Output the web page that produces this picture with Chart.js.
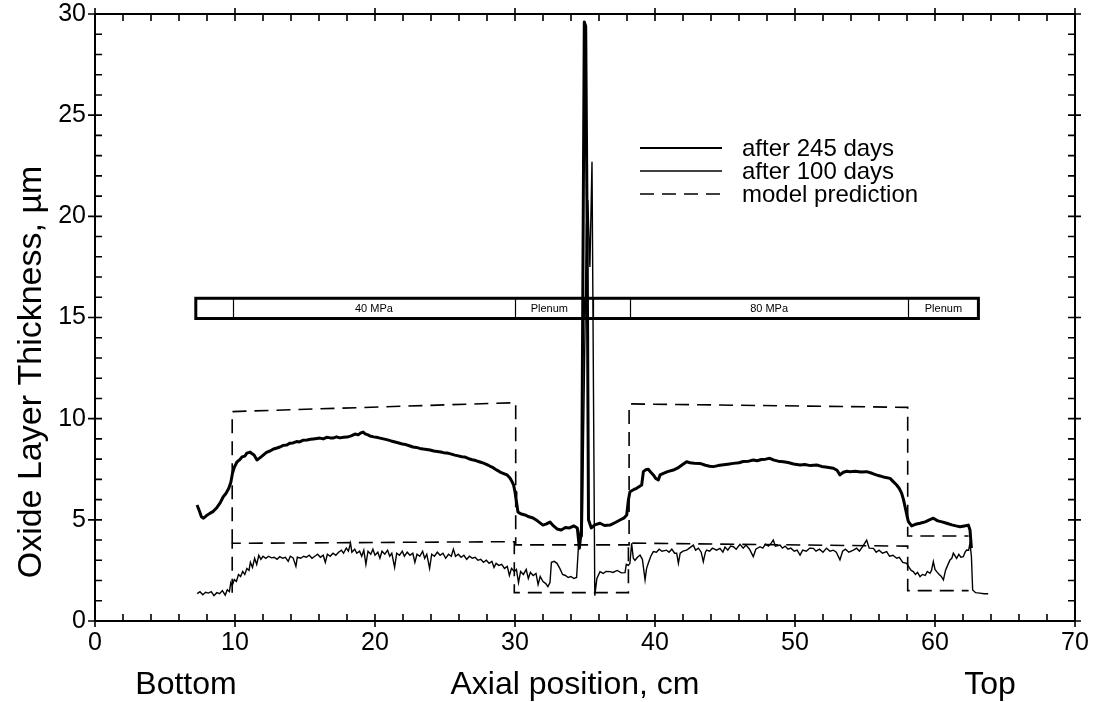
<!DOCTYPE html>
<html>
<head>
<meta charset="utf-8">
<script src="https://cdn.jsdelivr.net/npm/chart.js@4.4.1/dist/chart.umd.min.js"></script>
<style>
  html, body { margin: 0; padding: 0; background: #fff; }
  #wrap { width: 1100px; height: 702px; }
</style>
</head>
<body>
<div id="wrap"><canvas id="c" width="1100" height="702"></canvas></div>
<script>
// Axial oxide profile after 245 days (cm, µm)
const pos245 = [7.29,7.45,7.6,7.75,7.95,8.2,8.45,8.7,8.95,9.15,9.35,9.55,9.7,9.82,9.95,10.14,10.3,10.5,10.7,10.85,11.07,11.2,11.36,11.57,11.75,11.93,12.1,12.29,12.5,12.75,13.0,13.21,13.45,13.7,13.9,14.14,14.4,14.6,14.85,15.14,15.4,15.6,15.85,16.07,16.3,16.55,16.8,17.0,17.25,17.5,17.75,18.0,18.3,18.57,18.8,19.0,19.14,19.3,19.5,19.64,19.9,20.1,20.36,20.6,20.9,21.15,21.43,21.7,21.95,22.2,22.45,22.71,22.95,23.2,23.45,23.7,23.93,24.2,24.45,24.7,24.9,25.14,25.4,25.7,25.95,26.2,26.43,26.7,26.95,27.2,27.5,27.75,28.0,28.2,28.36,28.6,28.8,28.93,29.15,29.43,29.64,29.78,29.9,30.0,30.07,30.14,30.21,30.4,30.71,31.0,31.29,31.6,32.0,32.25,32.5,32.75,33.0,33.3,33.6,33.9,34.2,34.45,34.6,34.75,34.95,35.05,35.15,35.25,35.45,35.7,36.07,36.4,36.79,37.2,37.5,37.8,37.98,38.1,38.21,38.5,38.69,39.05,39.17,39.35,39.52,39.7,39.88,40.05,40.24,40.36,40.6,40.9,41.31,41.6,41.9,42.26,42.5,42.8,43.21,43.6,43.9,44.17,44.5,44.9,45.2,45.6,46.0,46.3,46.7,47.02,47.3,47.6,47.9,48.2,48.5,48.8,49.17,49.5,49.9,50.36,50.7,51.1,51.55,51.9,52.3,52.74,53.0,53.21,53.45,53.7,53.93,54.3,54.7,55.12,55.5,55.8,56.07,56.4,56.79,57.0,57.26,57.45,57.62,57.75,57.86,58.0,58.1,58.33,58.6,58.93,59.3,59.6,59.88,60.2,60.5,60.83,61.2,61.5,61.79,62.1,62.38,62.5,62.6];
const ox245 = [5.73,5.45,5.15,5.08,5.2,5.32,5.42,5.6,5.85,6.13,6.3,6.55,6.85,7.3,7.6,7.86,7.95,8.11,8.15,8.3,8.35,8.28,8.2,7.96,8.05,8.15,8.25,8.35,8.4,8.5,8.55,8.6,8.68,8.7,8.78,8.8,8.87,8.85,8.93,8.95,8.98,9.0,9.02,9.04,9.0,9.08,9.05,9.04,9.1,9.05,9.08,9.09,9.15,9.24,9.2,9.3,9.34,9.25,9.2,9.14,9.1,9.08,9.04,9.0,8.95,8.9,8.85,8.8,8.75,8.72,8.66,8.6,8.58,8.53,8.5,8.48,8.45,8.4,8.38,8.35,8.32,8.3,8.26,8.2,8.16,8.12,8.1,8.02,7.97,7.93,7.86,7.8,7.73,7.66,7.61,7.5,7.42,7.36,7.3,7.22,7.07,6.9,6.72,6.38,6.05,5.73,5.39,5.3,5.24,5.15,5.09,4.95,4.74,4.8,4.89,4.7,4.55,4.5,4.62,4.6,4.7,4.6,3.6,4.6,29.6,29.4,19.5,5.0,4.6,4.75,4.83,4.72,4.74,4.88,4.99,5.1,5.24,5.98,6.39,6.5,6.56,6.72,7.38,7.48,7.5,7.35,7.22,7.05,6.97,7.22,7.3,7.38,7.46,7.55,7.7,7.87,7.82,7.8,7.79,7.7,7.65,7.63,7.68,7.72,7.75,7.79,7.82,7.88,7.9,7.96,7.92,7.98,8.0,8.04,7.95,7.9,7.87,7.83,7.76,7.71,7.73,7.68,7.71,7.64,7.6,7.55,7.45,7.22,7.35,7.4,7.38,7.4,7.36,7.38,7.3,7.22,7.17,7.1,7.05,6.9,6.72,6.55,6.31,6.0,5.65,5.2,4.91,4.7,4.78,4.83,4.9,5.0,5.08,4.95,4.9,4.83,4.75,4.7,4.66,4.7,4.74,4.5,3.6];

// Axial oxide profile after 100 days (cm, µm)
const pos100 = [7.3,7.5,7.7,7.9,8.1,8.3,8.5,8.7,8.9,9.1,9.3,9.45,9.6,9.7,9.8,9.95,10.1,10.25,10.4,10.55,10.7,10.85,11.0,11.1,11.25,11.4,11.55,11.7,11.85,12.0,12.2,12.4,12.6,12.8,13.0,13.2,13.4,13.6,13.8,13.95,14.15,14.35,14.45,14.7,14.9,15.1,15.3,15.5,15.7,15.9,16.1,16.3,16.45,16.6,16.8,17.0,17.2,17.4,17.6,17.75,17.95,18.1,18.25,18.35,18.55,18.7,18.9,19.05,19.2,19.35,19.5,19.7,19.85,20.0,20.2,20.35,20.5,20.7,20.9,21.05,21.2,21.4,21.55,21.75,21.95,22.1,22.3,22.5,22.7,22.85,23.0,23.2,23.4,23.55,23.7,23.9,24.05,24.25,24.45,24.65,24.85,25.05,25.25,25.45,25.6,25.75,25.95,26.15,26.35,26.55,26.75,26.95,27.15,27.35,27.55,27.75,27.95,28.15,28.35,28.5,28.65,28.85,29.05,29.25,29.45,29.6,29.75,29.95,30.1,30.25,30.4,30.6,30.8,30.95,31.1,31.3,31.5,31.65,31.8,32.0,32.2,32.35,32.5,32.6,32.8,33.0,33.2,33.4,33.6,33.8,34.0,34.2,34.4,34.55,34.8,35.1,35.2,35.35,35.5,35.7,35.85,36.07,36.3,36.5,36.79,37.0,37.3,37.6,37.86,37.95,38.1,38.21,38.33,38.45,38.57,38.75,38.93,39.1,39.29,39.4,39.52,39.7,39.88,40.1,40.3,40.5,40.83,41.0,41.2,41.4,41.55,41.67,41.8,42.0,42.26,42.45,42.74,42.9,43.1,43.3,43.45,43.6,43.69,43.9,44.1,44.4,44.64,44.85,45.0,45.2,45.4,45.6,45.8,46.07,46.3,46.5,46.75,47.02,47.2,47.5,47.7,47.9,48.1,48.3,48.45,48.6,48.93,49.1,49.3,49.5,49.7,49.95,50.15,50.36,50.55,50.8,51.05,51.31,51.5,51.75,52.0,52.25,52.5,52.74,52.95,53.21,53.4,53.6,53.85,54.17,54.4,54.6,54.85,55.12,55.3,55.6,55.8,56.0,56.25,56.55,56.75,57.0,57.26,57.45,57.7,57.98,58.15,58.3,58.45,58.6,58.75,58.93,59.1,59.3,59.45,59.64,59.75,59.88,60.0,60.12,60.3,60.45,60.6,60.75,60.9,61.07,61.2,61.31,61.45,61.55,61.7,61.85,62.02,62.15,62.26,62.4,62.5,62.6,62.69,62.9,63.2,63.5,63.8];
const ox100 = [1.35,1.45,1.3,1.42,1.38,1.45,1.25,1.4,1.35,1.5,1.28,1.55,1.45,1.9,1.75,2.05,1.95,2.3,2.2,2.45,2.3,2.6,2.5,2.9,2.65,3.1,2.8,3.25,3.05,3.2,3.1,3.2,3.12,3.15,3.05,3.18,3.1,3.15,2.95,3.2,3.12,2.7,3.15,3.1,3.2,3.15,3.25,3.1,3.2,3.3,3.15,3.25,2.9,3.3,3.2,3.35,3.25,3.4,3.5,3.35,3.6,3.45,3.85,3.4,3.55,3.35,3.45,3.2,3.5,2.8,3.45,3.3,3.55,3.25,3.4,3.1,3.45,3.3,3.5,3.2,3.35,2.65,3.35,3.25,3.45,3.2,3.4,3.25,3.35,2.9,3.3,3.2,3.45,3.1,3.3,2.6,3.3,3.2,3.4,3.25,3.35,3.1,3.3,3.2,3.55,3.2,3.3,3.15,3.25,3.05,3.2,3.1,3.15,3.0,3.05,2.9,3.0,2.85,2.95,2.65,2.85,2.75,2.8,2.6,2.7,2.25,2.6,2.45,2.55,1.9,2.45,2.3,2.55,2.1,2.4,2.25,2.35,1.8,2.2,1.95,1.85,1.7,1.9,2.9,2.95,2.85,2.6,2.3,2.25,2.15,2.2,2.1,2.15,3.9,4.2,19.5,20.8,17.5,22.7,1.25,2.1,2.44,2.35,2.45,2.44,2.4,2.5,2.38,2.39,2.8,2.75,2.85,3.84,3.1,3.0,3.15,3.26,3.05,2.03,2.6,2.85,3.2,3.43,3.4,3.55,3.45,3.5,3.4,3.55,3.35,3.35,2.85,3.35,3.45,3.5,3.6,3.75,3.5,3.6,3.4,2.93,3.4,3.5,3.45,3.6,3.5,3.59,3.4,3.65,3.5,3.7,3.67,3.55,3.79,3.6,3.75,3.55,3.18,3.55,3.67,3.6,3.8,3.7,3.85,4.0,3.7,3.75,3.6,3.7,3.55,3.6,3.45,3.5,3.26,3.5,3.45,3.6,3.59,3.45,3.55,3.4,3.6,3.45,3.5,3.4,3.02,3.45,3.55,3.4,3.5,3.6,3.45,3.7,4.0,3.6,3.59,3.4,3.5,3.35,3.43,3.2,3.25,3.1,3.15,2.9,2.85,2.65,2.5,2.44,2.3,2.4,2.19,2.3,2.25,2.45,2.36,2.5,2.93,2.55,2.44,2.3,2.2,2.03,2.5,2.75,3.02,3.1,3.35,3.2,3.1,3.3,3.15,3.18,3.4,3.51,3.5,3.84,3.2,1.53,1.4,1.38,1.35,1.35];

// Model prediction, 245 days (step profile)
const modelPos245 = [9.8, 9.8, 30.05, 30.05, 38.15, 38.15, 58.05, 58.05, 62.4];
const modelOx245  = [3.84, 10.35, 10.79, 3.76, 3.76, 10.73, 10.56, 4.2, 4.2];
// Model prediction, 100 days
const modelPos100 = [9.8, 9.8, 29.95, 29.95, 38.1, 38.1, 58.05, 58.05, 62.4];
const modelOx100  = [1.4, 3.84, 3.92, 1.4, 1.4, 3.85, 3.7, 1.5, 1.5];

// Rod layout bar: outer extent, section dividers and section labels
const rodBarSpan = [7.2, 63.1];
const rodBarLevel = [14.95, 15.95];
const rodDividers = [9.85, 30.0, 34.9, 35.6, 38.2, 58.1];
const rodSections = [
  { text: '40 MPa', from: 9.85, to: 30.0 },
  { text: 'Plenum', from: 30.0, to: 34.9 },
  { text: '80 MPa', from: 38.2, to: 58.1 },
  { text: 'Plenum', from: 58.1, to: 63.1 }
];

const xTicks = [0, 10, 20, 30, 40, 50, 60, 70];
const yTicks = [0, 5, 10, 15, 20, 25, 30];
const seriesLabels = ['after 245 days', 'after 100 days', 'model prediction'];

const FONT = "'Liberation Sans', Arial, Helvetica, sans-serif";
const pts = (xs, ys) => xs.map((x, i) => ({ x, y: ys[i] }));

// White page background
const bgPlugin = {
  id: 'bg',
  beforeDraw(chart) {
    const c = chart.ctx;
    c.save();
    c.fillStyle = '#fff';
    c.fillRect(0, 0, chart.width, chart.height);
    c.restore();
  }
};

// Rod layout bar drawn across the plot
const rodBarPlugin = {
  id: 'rodBar',
  beforeDatasetsDraw(chart) {
    const { ctx, scales: { x, y } } = chart;
    const x0 = x.getPixelForValue(rodBarSpan[0]);
    const x1 = x.getPixelForValue(rodBarSpan[1]);
    const yb = y.getPixelForValue(rodBarLevel[0]);
    const yt = y.getPixelForValue(rodBarLevel[1]);
    ctx.save();
    ctx.fillStyle = '#fff';
    ctx.fillRect(x0, yt, x1 - x0, yb - yt);
    ctx.strokeStyle = '#000';
    ctx.lineWidth = 1.2;
    rodDividers.forEach(v => {
      const px = Math.round(x.getPixelForValue(v)) + 0.5;
      ctx.beginPath(); ctx.moveTo(px, yt); ctx.lineTo(px, yb); ctx.stroke();
    });
    ctx.lineWidth = 3;
    ctx.strokeRect(x0, yt, x1 - x0, yb - yt);
    ctx.fillStyle = '#000';
    ctx.font = '11px ' + FONT;
    ctx.textAlign = 'center';
    ctx.textBaseline = 'middle';
    rodSections.forEach(s => {
      const cx = (x.getPixelForValue(s.from) + x.getPixelForValue(s.to)) / 2;
      ctx.fillText(s.text, cx, (yt + yb) / 2 + 1);
    });
    ctx.restore();
  }
};

// Frame with inward minor ticks and crossing major ticks, legend and axis titles
const framePlugin = {
  id: 'frame',
  afterDatasetsDraw(chart) {
    const { ctx, chartArea: a, scales: { x, y } } = chart;
    ctx.save();
    ctx.strokeStyle = '#000';
    ctx.lineWidth = 2;
    ctx.strokeRect(a.left, a.top, a.right - a.left, a.bottom - a.top);
    ctx.lineWidth = 1.6;
    ctx.beginPath();
    for (let v = 0; v <= 70; v += 2) {
      const px = x.getPixelForValue(v);
      const major = v % 10 === 0;
      ctx.moveTo(px, a.bottom + (major ? 6 : 0)); ctx.lineTo(px, a.bottom - 7);
      ctx.moveTo(px, a.top - (major ? 6 : 0)); ctx.lineTo(px, a.top + 7);
    }
    for (let v = 0; v <= 30; v += 1) {
      const py = y.getPixelForValue(v);
      const major = v % 5 === 0;
      ctx.moveTo(a.left - (major ? 7 : 0), py); ctx.lineTo(a.left + 7, py);
      ctx.moveTo(a.right + (major ? 6 : 0), py); ctx.lineTo(a.right - 7, py);
    }
    ctx.stroke();

    // legend
    const ds = chart.data.datasets;
    const rows = [ds[0], ds[1], ds[2]];
    const rowY = [148, 171, 194];
    ctx.font = '24px ' + FONT;
    ctx.fillStyle = '#000';
    ctx.textAlign = 'left';
    ctx.textBaseline = 'middle';
    rows.forEach((d, i) => {
      ctx.save();
      ctx.lineWidth = i === 0 ? 2.2 : 1.6;
      ctx.setLineDash(d.borderDash || []);
      ctx.beginPath();
      ctx.moveTo(640, rowY[i]); ctx.lineTo(722, rowY[i]);
      ctx.stroke();
      ctx.restore();
      ctx.fillText(seriesLabels[i], 742, rowY[i] + 1);
    });

    // axis titles
    ctx.font = '32px ' + FONT;
    ctx.textAlign = 'center';
    ctx.textBaseline = 'alphabetic';
    ctx.fillText('Bottom', 186, 694);
    ctx.fillText('Axial position, cm', 575, 694);
    ctx.fillText('Top', 990, 694);
    ctx.save();
    ctx.translate(41, 372);
    ctx.rotate(-Math.PI / 2);
    ctx.font = '34px ' + FONT;
    ctx.fillText('Oxide Layer Thickness, \u00b5m', 0, 0);
    ctx.restore();
    ctx.restore();
  }
};

new Chart(document.getElementById('c'), {
  type: 'scatter',
  data: {
    datasets: [
      { label: seriesLabels[0], data: pts(pos245, ox245), showLine: true, borderColor: '#000', borderWidth: 3, pointRadius: 0, borderJoinStyle: 'round' },
      { label: seriesLabels[1], data: pts(pos100, ox100), showLine: true, borderColor: '#000', borderWidth: 1.4, pointRadius: 0 },
      { label: seriesLabels[2], data: pts(modelPos245, modelOx245), showLine: true, borderColor: '#000', borderWidth: 1.6, borderDash: [14, 8], pointRadius: 0 },
      { label: seriesLabels[2] + ' (100 d)', data: pts(modelPos100, modelOx100), showLine: true, borderColor: '#000', borderWidth: 1.6, borderDash: [14, 8], pointRadius: 0 }
    ]
  },
  options: {
    responsive: false,
    animation: false,
    layout: { padding: { left: 0, right: 25, top: 14, bottom: 0 } },
    plugins: { legend: { display: false }, tooltip: { enabled: false } },
    elements: { line: { tension: 0 }, point: { radius: 0 } },
    scales: {
      x: {
        type: 'linear', min: 0, max: 70,
        afterBuildTicks(s) { s.ticks = xTicks.map(v => ({ value: v })); },
        ticks: { color: '#000', font: { family: FONT, size: 25 }, padding: 7, maxRotation: 0, autoSkip: false },
        grid: { display: false, drawTicks: false },
        border: { display: false },
        afterFit(s) { s.height = 81; s.paddingLeft = 0; s.paddingRight = 0; }
      },
      y: {
        type: 'linear', min: 0, max: 30,
        afterBuildTicks(s) { s.ticks = yTicks.map(v => ({ value: v })); },
        ticks: { color: '#000', font: { family: FONT, size: 25 }, padding: 9, autoSkip: false },
        grid: { display: false, drawTicks: false },
        border: { display: false },
        afterFit(s) { s.width = 95; s.paddingTop = 0; s.paddingBottom = 0; }
      }
    }
  },
  plugins: [bgPlugin, rodBarPlugin, framePlugin]
});
</script>
</body>
</html>
